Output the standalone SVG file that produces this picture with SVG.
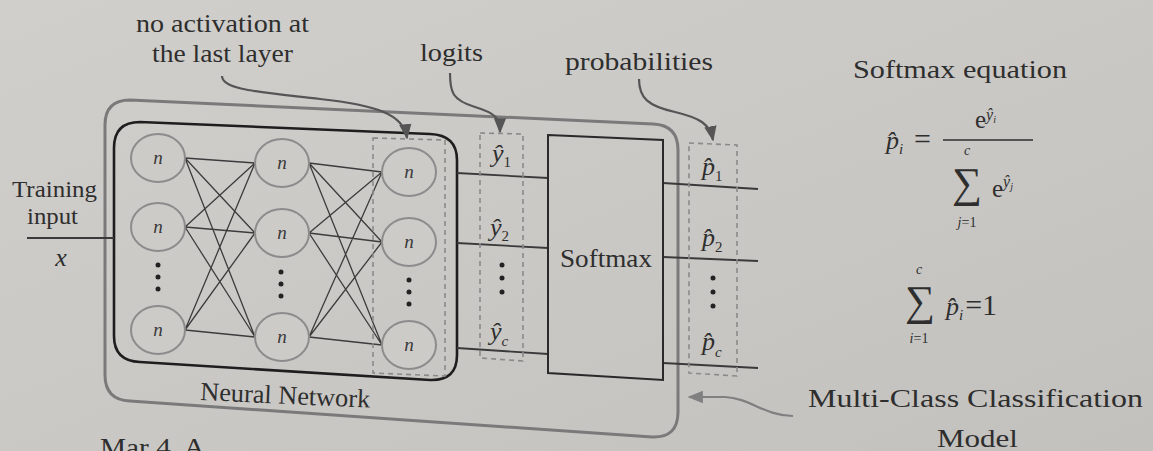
<svg xmlns="http://www.w3.org/2000/svg" width="1153" height="451" viewBox="0 0 1153 451">
  <defs>
    <linearGradient id="paper" x1="0" y1="0" x2="1" y2="1">
      <stop offset="0" stop-color="#d1cfcc"/>
      <stop offset="0.6" stop-color="#c9c7c4"/>
      <stop offset="1" stop-color="#c3c1be"/>
    </linearGradient>
    <marker id="tip" viewBox="0 0 10 10" refX="9" refY="5" markerWidth="7" markerHeight="7" orient="auto-start-reverse">
      <path d="M0,1 L10,5 L0,9 z" fill="#555"/>
    </marker>
    <marker id="tipGray" viewBox="0 0 10 10" refX="9" refY="5" markerWidth="7" markerHeight="7" orient="auto-start-reverse">
      <path d="M0,1 L10,5 L0,9 z" fill="#808080"/>
    </marker>
  </defs>
  <style>
    text { font-family: "Liberation Serif", "Times New Roman", serif; fill: #2e2e2e; }
    .lbl { font-size: 26px; }
    .var { font-style: italic; }
    .node ellipse { fill: #cdcbc8; stroke: #8c8c8c; stroke-width: 2; }
    .node text { font-size: 19px; font-style: italic; fill: #3a3a3a; }
    .dot { fill: #222; }
    .edge { stroke: #3c3c3c; stroke-width: 1.3; fill: none; }
    .wire { stroke: #3a3a3a; stroke-width: 1.8; fill: none; }
    .dash { stroke: #8a8a8a; stroke-width: 1.6; fill: none; stroke-dasharray: 5 4; }
    .callout { stroke: #555; stroke-width: 2.2; fill: none; }
    .sym { font-size: 26px; font-style: italic; }
    .sub { font-size: 15px; }
    .lim { font-size: 14px; }
  </style>

  <rect width="1153" height="451" fill="url(#paper)"/>

  <!-- outer model frame -->
  <path id="model-frame" d="M130 100 L653 124 Q678 125 678 150 L678 412 Q678 438 652 437 L130 401 Q105 400 105 375 L105 125 Q105 100 130 100 Z" fill="none" stroke="#7a7a7a" stroke-width="3"/>

  <!-- neural network frame -->
  <g id="neural-network">
    <path d="M140 122 L430 134 Q457 135 457 160 L457 355 Q457 381 430 380 L140 362 Q114 361 114 336 L114 148 Q114 122 140 122 Z" fill="none" stroke="#1e1e1e" stroke-width="2.6"/>
    <text class="lbl" x="200" y="400" textLength="170" lengthAdjust="spacingAndGlyphs" transform="rotate(2.6 200 400)" fill="#3a3a3a">Neural Network</text>
  </g>

  <!-- connectors -->
  <g id="connectors">
    <!-- layer 1 to layer 2 -->
    <path class="edge" d="M185 158 L255 163 M185 158 L255 233 M185 158 L255 337
                          M185 227 L255 163 M185 227 L255 233 M185 227 L255 337
                          M185 330 L255 163 M185 330 L255 233 M185 330 L255 337"/>
    <!-- layer 2 to layer 3 -->
    <path class="edge" d="M309 163 L382 172 M309 163 L382 242 M309 163 L382 345
                          M309 233 L382 172 M309 233 L382 242 M309 233 L382 345
                          M309 337 L382 172 M309 337 L382 242 M309 337 L382 345"/>
    <!-- input -->
    <path class="wire" d="M27 238 L114 238"/>
    <!-- logits into softmax -->
    <path class="wire" d="M457 173 L548 178 M457 243 L548 248 M457 348 L548 354"/>
    <!-- probabilities out -->
    <path class="wire" d="M663 183 L758 189 M663 257 L758 261 M663 363 L758 368"/>
    <!-- callouts -->
    <path class="callout" d="M222 76 C222 90 260 92 320 99 C375 105 404 114 407 138" marker-end="url(#tip)"/>
    <path class="callout" d="M450 73 C450 92 452 100 475 107 C495 113 500 118 500 132" marker-end="url(#tip)"/>
    <path class="callout" d="M639 79 C639 98 648 106 675 112 C700 118 710 124 713 140" marker-end="url(#tip)"/>
    <path d="M793 416 C765 416 750 398 725 397 L689 397" fill="none" stroke="#808080" stroke-width="2.2" marker-end="url(#tipGray)"/>
  </g>

  <!-- layer 1 -->
  <g id="layer-1" class="node">
    <ellipse cx="158" cy="158" rx="27" ry="24"/><text x="158" y="164" text-anchor="middle">n</text>
    <ellipse cx="158" cy="227" rx="27" ry="24"/><text x="158" y="233" text-anchor="middle">n</text>
    <ellipse cx="158" cy="330" rx="27" ry="24"/><text x="158" y="336" text-anchor="middle">n</text>
    <circle class="dot" cx="158" cy="265" r="2.5"/><circle class="dot" cx="158" cy="277" r="2.5"/><circle class="dot" cx="158" cy="289" r="2.5"/>
  </g>

  <!-- layer 2 -->
  <g id="layer-2" class="node">
    <ellipse cx="282" cy="163" rx="27" ry="24"/><text x="282" y="169" text-anchor="middle">n</text>
    <ellipse cx="282" cy="233" rx="27" ry="24"/><text x="282" y="239" text-anchor="middle">n</text>
    <ellipse cx="282" cy="337" rx="27" ry="24"/><text x="282" y="343" text-anchor="middle">n</text>
    <circle class="dot" cx="281" cy="272" r="2.5"/><circle class="dot" cx="281" cy="284" r="2.5"/><circle class="dot" cx="281" cy="296" r="2.5"/>
  </g>

  <!-- output layer -->
  <g id="layer-3" class="node">
    <path class="dash" d="M373 138 L445 140 L445 376 L373 373 Z"/>
    <ellipse cx="409" cy="172" rx="27" ry="24"/><text x="409" y="178" text-anchor="middle">n</text>
    <ellipse cx="409" cy="242" rx="27" ry="24"/><text x="409" y="248" text-anchor="middle">n</text>
    <ellipse cx="409" cy="345" rx="27" ry="24"/><text x="409" y="351" text-anchor="middle">n</text>
    <circle class="dot" cx="409" cy="280" r="2.5"/><circle class="dot" cx="409" cy="292" r="2.5"/><circle class="dot" cx="409" cy="304" r="2.5"/>
  </g>

  <!-- logits column -->
  <g id="logits">
    <path class="dash" d="M480 133 L523 134 L523 361 L480 358 Z"/>
    <text class="sym" x="492" y="162">ŷ<tspan class="sub" font-style="normal" dy="5">1</tspan></text>
    <text class="sym" x="490" y="236">ŷ<tspan class="sub" font-style="normal" dy="5">2</tspan></text>
    <circle class="dot" cx="502" cy="265" r="2.5"/><circle class="dot" cx="502" cy="278" r="2.5"/><circle class="dot" cx="502" cy="292" r="2.5"/>
    <text class="sym" x="490" y="340">ŷ<tspan class="sub" dy="6">c</tspan></text>
  </g>

  <!-- softmax block -->
  <g id="softmax">
    <path d="M548 135 L663 140 L663 380 L548 373 Z" fill="none" stroke="#2a2a2a" stroke-width="2"/>
    <text class="lbl" x="560" y="267" textLength="92" lengthAdjust="spacingAndGlyphs">Softmax</text>
  </g>

  <!-- probabilities column -->
  <g id="probabilities">
    <path class="dash" d="M689 143 L737 145 L737 376 L689 373 Z"/>
    <text class="sym" x="702" y="175">p&#x302;<tspan class="sub" font-style="normal" dy="6">1</tspan></text>
    <text class="sym" x="702" y="246">p&#x302;<tspan class="sub" font-style="normal" dy="6">2</tspan></text>
    <circle class="dot" cx="713" cy="278" r="2.5"/><circle class="dot" cx="713" cy="292" r="2.5"/><circle class="dot" cx="713" cy="306" r="2.5"/>
    <text class="sym" x="702" y="350">p&#x302;<tspan class="sub" dy="7">c</tspan></text>
  </g>

  <!-- labels -->
  <g id="labels">
    <text class="lbl" x="136" y="32" textLength="173" lengthAdjust="spacingAndGlyphs">no activation at</text>
    <text class="lbl" x="152" y="62" textLength="141" lengthAdjust="spacingAndGlyphs">the last layer</text>
    <text class="lbl" x="420" y="61" textLength="63" lengthAdjust="spacingAndGlyphs">logits</text>
    <text class="lbl" x="565" y="70" textLength="148" lengthAdjust="spacingAndGlyphs">probabilities</text>
    <text x="12" y="197" font-size="23" textLength="85" lengthAdjust="spacingAndGlyphs">Training</text>
    <text x="27" y="224" font-size="23" textLength="51" lengthAdjust="spacingAndGlyphs">input</text>
    <text class="lbl var" x="61" y="266" text-anchor="middle">x</text>
    <text class="lbl" x="808" y="407" textLength="335" lengthAdjust="spacingAndGlyphs" fill="#777">Multi-Class Classification</text>
    <text class="lbl" x="937" y="447" textLength="81" lengthAdjust="spacingAndGlyphs" fill="#777">Model</text>
    <text class="lbl" x="100" y="456" textLength="105" lengthAdjust="spacingAndGlyphs">Mar 4. A</text>
  </g>

  <!-- softmax equations -->
  <g id="equations">
    <text class="lbl" x="853" y="78" textLength="214" lengthAdjust="spacingAndGlyphs">Softmax equation</text>
    <!-- p_i = e^{y_i} / sum_j e^{y_j} -->
    <text class="sym" x="886" y="149" font-size="28">p&#x302;<tspan class="sub" dy="5">i</tspan></text>
    <text x="914" y="149" font-size="30">=</text>
    <line x1="943" y1="140" x2="1033" y2="140" stroke="#2e2e2e" stroke-width="1.4"/>
    <text x="975" y="128" font-size="25">e<tspan font-style="italic" font-size="16" dy="-8">ŷ<tspan font-size="10" dy="3">i</tspan></tspan></text>
    <text x="967" y="197" font-size="42" text-anchor="middle">∑</text>
    <text class="lim var" x="967" y="155" text-anchor="middle">c</text>
    <text class="lim var" x="967" y="227" text-anchor="middle">j<tspan font-style="normal">=1</tspan></text>
    <text x="992" y="197" font-size="25">e<tspan font-style="italic" font-size="16" dy="-10">ŷ<tspan font-size="10" dy="3">j</tspan></tspan></text>
    <!-- sum_i p_i = 1 -->
    <text x="920" y="315" font-size="42" text-anchor="middle">∑</text>
    <text class="lim var" x="919" y="274" text-anchor="middle">c</text>
    <text class="lim var" x="919" y="343" text-anchor="middle">i<tspan font-style="normal">=1</tspan></text>
    <text class="sym" x="946" y="315" font-size="28">p&#x302;<tspan class="sub" dy="5">i</tspan><tspan font-style="normal" font-size="30" dy="-5" dx="2">=1</tspan></text>
  </g>
</svg>
